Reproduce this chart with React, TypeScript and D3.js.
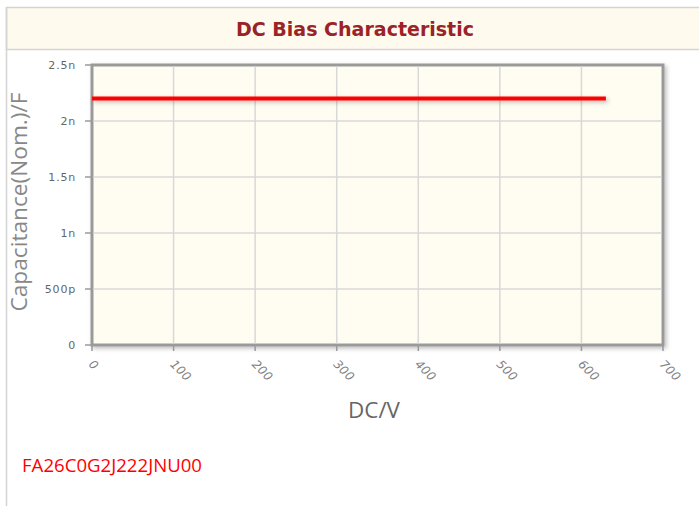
import React, { useEffect, useRef } from "react";
import * as d3 from "d3";

const title = "DC Bias Characteristic";
const partNumber = "FA26C0G2J222JNU00";
const xTicks = [0, 100, 200, 300, 400, 500, 600, 700];
const yTicks = [0, 0.5e-9, 1e-9, 1.5e-9, 2e-9, 2.5e-9];
const yTickLabels = ["0", "500p", "1n", "1.5n", "2n", "2.5n"];
const voltage = [0, 630];
const capacitance = [2.2e-9, 2.2e-9];

export default function App() {
  const ref = useRef<SVGSVGElement>(null);
  useEffect(() => {
    const svg = d3.select(ref.current);
    svg.selectAll("*").remove();
    const W = 699, H = 506;
    const L = 92, R = 663, T = 65, B = 345;
    const x = d3.scaleLinear().domain([0, 700]).range([L, R]);
    const y = d3.scaleLinear().domain([0, 2.5e-9]).range([B, T]);

    svg.append("rect").attr("width", W).attr("height", H).attr("fill", "#fff");
    // header
    svg.append("rect").attr("x", 6.5).attr("y", 7.5).attr("width", W).attr("height", 42)
      .attr("fill", "#fffaee").attr("stroke", "#d4d4d4").attr("stroke-width", 1.5);
    svg.append("line").attr("x1", 6.5).attr("x2", 6.5).attr("y1", 7).attr("y2", H)
      .attr("stroke", "#d4d4d4").attr("stroke-width", 1.5);
    svg.append("text").attr("x", 355).attr("y", 36).attr("text-anchor", "middle")
      .attr("font-family", "DejaVu Sans Condensed, DejaVu Sans").attr("font-stretch", "condensed")
      .attr("font-weight", "bold").attr("font-size", 20)
      .attr("textLength", 238).attr("lengthAdjust", "spacingAndGlyphs")
      .attr("fill", "#9b2226").text(title);

    const defs = svg.append("defs");
    const f = defs.append("filter").attr("id", "sh").attr("filterUnits", "userSpaceOnUse")
      .attr("x", 0).attr("y", 0).attr("width", W).attr("height", H);
    f.append("feDropShadow").attr("dx", 2).attr("dy", 2).attr("stdDeviation", 2).attr("flood-color", "#000").attr("flood-opacity", 0.25);

    svg.append("rect").attr("x", L).attr("y", T).attr("width", R - L).attr("height", B - T)
      .attr("fill", "#fffcf2").attr("stroke", "#9a9a9a").attr("stroke-width", 3).attr("filter", "url(#sh)");

    const g = svg.append("g");
    xTicks.slice(1, -1).forEach(v => {
      g.append("line").attr("x1", x(v)).attr("x2", x(v)).attr("y1", T + 1.5).attr("y2", B - 1.5)
        .attr("stroke", "#d8d8d8").attr("stroke-width", 1.5);
    });
    yTicks.slice(1, -1).forEach(v => {
      g.append("line").attr("x1", L + 1.5).attr("x2", R - 1.5).attr("y1", y(v)).attr("y2", y(v))
        .attr("stroke", "#d8d8d8").attr("stroke-width", 1.5);
    });
    // ticks
    yTicks.forEach((v, i) => {
      g.append("line").attr("x1", L - 7).attr("x2", L).attr("y1", y(v)).attr("y2", y(v))
        .attr("stroke", "#9a9a9a").attr("stroke-width", 1.5);
      g.append("text").attr("x", L - 16).attr("y", y(v) + 4).attr("text-anchor", "end")
        .attr("font-family", "DejaVu Sans").attr("font-size", 11).attr("letter-spacing", 0.8)
        .attr("fill", "#666").text(yTickLabels[i]);
    });
    xTicks.forEach(v => {
      g.append("line").attr("x1", x(v)).attr("x2", x(v)).attr("y1", B).attr("y2", B + 6)
        .attr("stroke", "#9a9a9a").attr("stroke-width", 1.5);
      g.append("text").attr("transform", `translate(${x(v) - 4},${B + 20}) rotate(45)`)
        .attr("text-anchor", "start")
        .attr("font-family", "DejaVu Sans").attr("font-style", "italic").attr("font-size", 12)
        .attr("letter-spacing", 0.3).attr("fill", "#808080").text(String(v));
    });

    const line = d3.line<number>().x((d, i) => x(voltage[i])).y(d => y(d));
    svg.append("path").attr("d", line(capacitance)).attr("fill", "none")
      .attr("stroke", "#ff0000").attr("stroke-width", 4).attr("filter", "url(#sh)");

    svg.append("text").attr("transform", `translate(27,202) rotate(-90)`).attr("text-anchor", "middle")
      .attr("font-family", "Open Sans").attr("font-size", 22)
      .attr("textLength", 219).attr("lengthAdjust", "spacingAndGlyphs")
      .attr("fill", "#888").text("Capacitance(Nom.)/F");
    svg.append("text").attr("x", 374).attr("y", 418).attr("text-anchor", "middle")
      .attr("font-family", "Open Sans").attr("font-size", 22)
      .attr("textLength", 52).attr("lengthAdjust", "spacingAndGlyphs")
      .attr("fill", "#666").text("DC/V");
    svg.append("text").attr("x", 22).attr("y", 472)
      .attr("font-family", "Open Sans").attr("font-size", 18.5)
      .attr("textLength", 180).attr("lengthAdjust", "spacingAndGlyphs")
      .attr("fill", "#ff0000").text(partNumber);
  }, []);
  return (
    <svg ref={ref} width={699} height={506} style={{ position: "absolute", left: 0, top: 0 }} />
  );
}
